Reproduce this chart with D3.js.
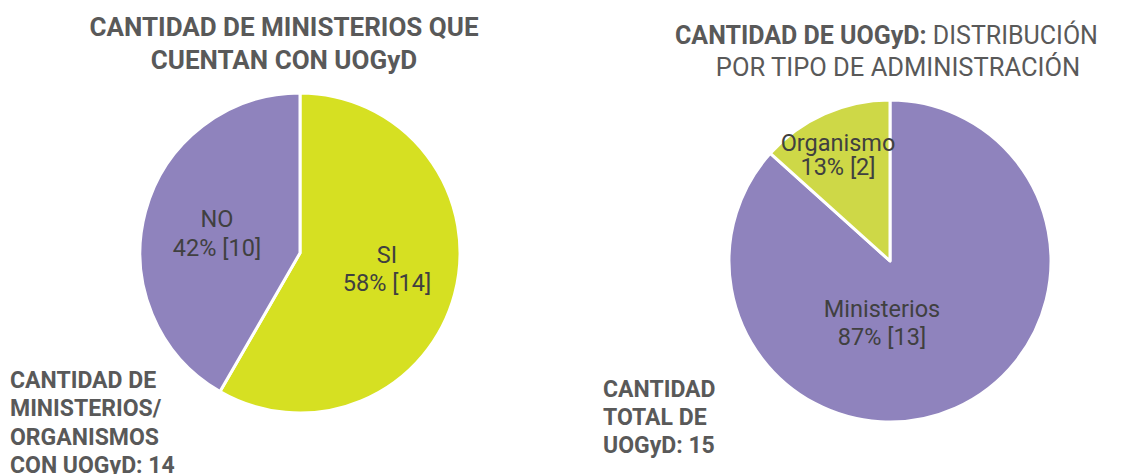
<!DOCTYPE html>
<html><head><meta charset="utf-8">
<script src="https://cdn.jsdelivr.net/npm/d3@7"></script>
<style>
html,body{margin:0;padding:0;background:#fff;}
svg{display:block;font-family:Roboto, "Noto Sans", sans-serif;}
</style></head>
<body>
<svg id="chart" width="1125" height="474"></svg>
<script>
// ---- data ----
const leftCategories = ["SI", "NO"];
const leftValues = [14, 10];
const rightCategories = ["Ministerios", "Organismo"];
const rightValues = [13, 2];
const leftTitle = ["CANTIDAD DE MINISTERIOS QUE", "CUENTAN CON UOGyD"];
const rightTitleBold = "CANTIDAD DE UOGyD:";
const rightTitleRest = " DISTRIBUCIÓN";
const rightTitleLine2 = "POR TIPO DE ADMINISTRACIÓN";
const leftNote = ["CANTIDAD DE", "MINISTERIOS/", "ORGANISMOS", "CON UOGyD: 14"];
const rightNote = ["CANTIDAD", "TOTAL DE", "UOGyD: 15"];

// ---- styles / layout ----
const svg = d3.select("#chart");
const titleColor = "#595959";
const labelColor = "#404040";

const pies = [
  {cats: leftCategories, vals: leftValues, cx: 300, cy: 253, r: 160,
   colors: {"SI": "#d6e022", "NO": "#8f83bd"},
   labelOff: {"SI": [87, 9.7, 37.7], "NO": [-83, -25.7, 3]}},
  {cats: rightCategories, vals: rightValues, cx: 890, cy: 261, r: 161,
   colors: {"Ministerios": "#8f83bd", "Organismo": "#ced847"},
   labelOff: {"Ministerios": [-8, 55.7, 84], "Organismo": [-52, -110.3, -86]}}
];

pies.forEach(p => {
  const total = d3.sum(p.vals);
  const data = p.cats.map((c, i) => ({cat: c, val: p.vals[i]}));
  const pie = d3.pie().sort(null).value(d => d.val);
  const arc = d3.arc().innerRadius(0).outerRadius(p.r);
  const g = svg.append("g").attr("transform", `translate(${p.cx},${p.cy})`);
  const arcs = pie(data);
  g.selectAll("path").data(arcs).join("path")
    .attr("d", arc)
    .attr("fill", d => p.colors[d.data.cat])
    .attr("stroke", "#fff")
    .attr("stroke-width", 3)
    .attr("stroke-linejoin", "round");
  arcs.forEach(d => {
    const off = p.labelOff[d.data.cat];
    const pct = Math.round(d.data.val / total * 100);
    const t = g.append("text").attr("text-anchor", "middle")
      .attr("fill", labelColor).attr("font-size", 23.5);
    t.append("tspan").attr("x", off[0]).attr("y", off[1]).text(d.data.cat);
    t.append("tspan").attr("x", off[0]).attr("y", off[2]).text(`${pct}% [${d.data.val}]`);
  });
});

// titles
svg.append("text").attr("text-anchor", "middle").attr("fill", titleColor)
  .attr("font-size", 26).attr("font-weight", "bold")
  .selectAll("tspan").data(leftTitle).join("tspan")
  .attr("x", 284).attr("y", (d, i) => 36 + i * 33).text(d => d);

const rt = svg.append("text").attr("text-anchor", "start").attr("fill", titleColor)
  .attr("font-size", 25).attr("x", 675).attr("y", 44);
rt.append("tspan").attr("font-weight", "bold").text(rightTitleBold);
rt.append("tspan").text(rightTitleRest);
svg.append("text").attr("text-anchor", "middle").attr("fill", titleColor)
  .attr("font-size", 25.5).attr("x", 898).attr("y", 76).text(rightTitleLine2);

// notes
svg.append("text").attr("fill", titleColor).attr("font-size", 23).attr("font-weight", "bold")
  .selectAll("tspan").data(leftNote).join("tspan")
  .attr("x", 10).attr("y", (d, i) => 388 + i * 28.3).text(d => d);
svg.append("text").attr("fill", titleColor).attr("font-size", 23).attr("font-weight", "bold")
  .selectAll("tspan").data(rightNote).join("tspan")
  .attr("x", 603).attr("y", (d, i) => 397 + i * 28).text(d => d);
</script>
</body></html>
